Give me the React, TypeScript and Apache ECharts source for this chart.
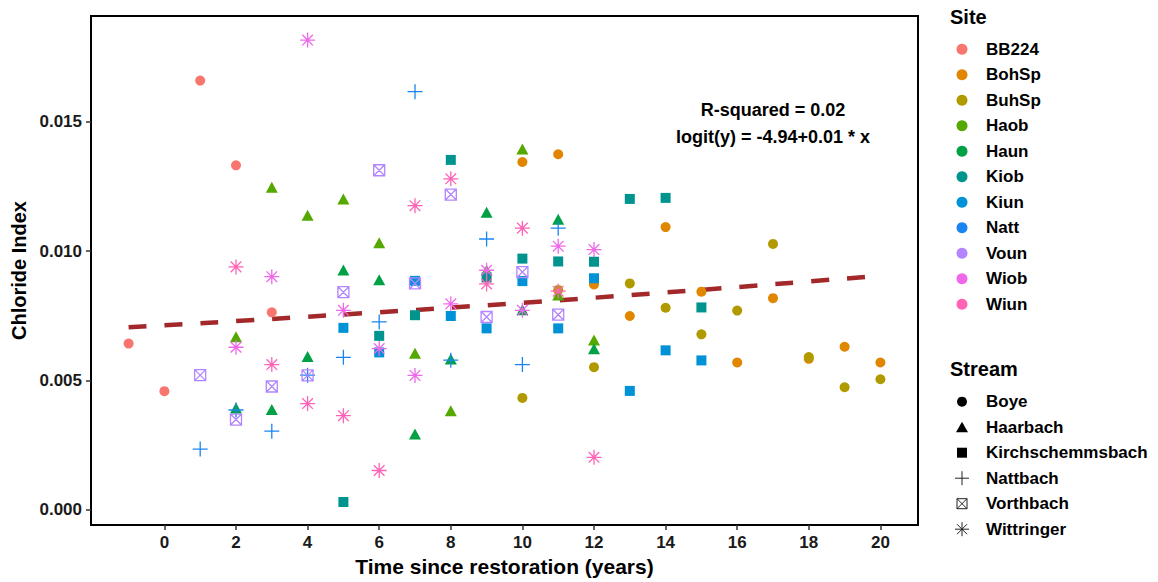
import React, { useEffect, useRef } from "react";
import * as echarts from "echarts";

const FONT = '"Liberation Sans", Arial, Helvetica, sans-serif';

// ---- data ----
const yearsBB224 = [-1, 0, 1, 2, 3];
const years10to20 = [10, 11, 12, 13, 14, 15, 16, 17, 18, 19, 20];
const years2to12 = [2, 3, 4, 5, 6, 7, 8, 9, 10, 11, 12];
const years5to15 = [5, 6, 7, 8, 9, 10, 11, 12, 13, 14, 15];
const years1to11 = [1, 2, 3, 4, 5, 6, 7, 8, 9, 10, 11];

const valBB224 = [0.00642, 0.00458, 0.0166, 0.01332, 0.00763];
const valBohSp = [0.01345, 0.01375, 0.00871, 0.00749, 0.01093, 0.00843, 0.00569, 0.00818, 0.00583, 0.0063, 0.00569];
const valBuhSp = [0.00432, 0.0085, 0.00551, 0.00875, 0.00781, 0.00678, 0.0077, 0.01028, 0.0059, 0.00473, 0.00504];
const valHaob = [0.00669, 0.01247, 0.01139, 0.01202, 0.01032, 0.00605, 0.00382, 0.00926, 0.01395, 0.0083, 0.00656];
const valHaun = [0.00393, 0.00387, 0.00592, 0.00927, 0.00889, 0.00292, 0.00582, 0.0115, 0.00773, 0.01123, 0.00622];
const valKiob = [0.00029, 0.00672, 0.00752, 0.01353, 0.00898, 0.00971, 0.0096, 0.00959, 0.01202, 0.01206, 0.00782];
const valKiun = [0.00703, 0.00608, 0.00885, 0.00749, 0.00701, 0.00884, 0.00701, 0.00895, 0.00459, 0.00616, 0.00577];
const valNatt = [0.00234, 0.00385, 0.00303, 0.0052, 0.00589, 0.00726, 0.01617, 0.00578, 0.01047, 0.00561, 0.01089];
const valVoun = [0.0052, 0.00348, 0.00476, 0.00519, 0.00841, 0.01313, 0.00875, 0.01219, 0.00745, 0.00919, 0.00754];
const valWiob = [0.00628, 0.00901, 0.01817, 0.00771, 0.00623, 0.00519, 0.00796, 0.00926, 0.00771, 0.01019, 0.01006];
const valWiun = [0.00939, 0.00561, 0.0041, 0.00363, 0.00151, 0.01176, 0.0128, 0.00873, 0.01089, 0.00845, 0.00202];

const fitX = [-1, 10, 20];
const fitY = [0.00705, 0.008, 0.00905];

const siteNames = ["BB224", "BohSp", "BuhSp", "Haob", "Haun", "Kiob", "Kiun", "Natt", "Voun", "Wiob", "Wiun"];
const siteStreams = ["Boye", "Boye", "Boye", "Haarbach", "Haarbach", "Kirchschemmsbach", "Kirchschemmsbach", "Nattbach", "Vorthbach", "Wittringer", "Wittringer"];
const siteYears = [yearsBB224, years10to20, years10to20, years2to12, years2to12, years5to15, years5to15, years1to11, years1to11, years2to12, years2to12];
const siteValues = [valBB224, valBohSp, valBuhSp, valHaob, valHaun, valKiob, valKiun, valNatt, valVoun, valWiob, valWiun];
const siteColors = ["#F8766D", "#E08600", "#B09A00", "#55A800", "#00A045", "#00948F", "#0092D6", "#1A85F2", "#B385FF", "#EF67EB", "#FF63B6"];

const streamNames = ["Boye", "Haarbach", "Kirchschemmsbach", "Nattbach", "Vorthbach", "Wittringer"];

const xTicks = [0, 2, 4, 6, 8, 10, 12, 14, 16, 18, 20];
const yTicks = [0, 0.005, 0.01, 0.015];

// ---- symbol styles per stream ----
const streamSymbol: Record<string, any> = {
  Boye: { symbol: "circle", size: 10, stroke: false },
  Haarbach: { symbol: "triangle", size: [12, 11], stroke: false },
  Kirchschemmsbach: { symbol: "rect", size: 10, stroke: false },
  Nattbach: { symbol: "path://M5,0L5,10M0,5L10,5", size: 15, stroke: true },
  Vorthbach: { symbol: "path://M0,0L10,0L10,10L0,10ZM0,0L10,10M10,0L0,10", size: 11, stroke: true },
  Wittringer: { symbol: "path://M5,0L5,10M0,5L10,5M1.46,1.46L8.54,8.54M8.54,1.46L1.46,8.54", size: 15, stroke: true },
};

function buildSeries() {
  const series: any[] = [
    {
      type: "line",
      name: "fit",
      data: fitX.map((x, i) => [x, fitY[i]]),
      showSymbol: false,
      smooth: true,
      lineStyle: { color: "#A3282A", width: 4.5, type: [18, 18], cap: "butt" },
      z: 1,
      silent: true,
    },
  ];
  siteNames.forEach((name, i) => {
    const st = streamSymbol[siteStreams[i]];
    const color = siteColors[i];
    series.push({
      type: "scatter",
      name,
      data: siteYears[i].map((x, j) => [x, siteValues[i][j]]),
      symbol: st.symbol,
      symbolSize: st.size,
      z: 2 + i,
      itemStyle: st.stroke
        ? { color: "rgba(0,0,0,0)", borderColor: color, borderWidth: 1.3, opacity: 1 }
        : { color, opacity: 1 },
    });
  });
  return series;
}

function legendGraphics() {
  const els: any[] = [];
  const textStyle = (t: string, x: number, y: number, size: number) => ({
    type: "text",
    x,
    y,
    style: {
      text: t,
      fontFamily: FONT,
      fontWeight: "bold",
      fontSize: size,
      fill: "#000",
      textAlign: "left",
      textVerticalAlign: "middle",
    },
  });
  els.push(textStyle("Site", 950, 17, 20));
  const siteY0 = 49.3;
  const siteStep = 25.5;
  siteNames.forEach((n, i) => {
    const y = siteY0 + i * siteStep;
    els.push({ type: "circle", shape: { cx: 962, cy: y, r: 5.5 }, style: { fill: siteColors[i] } });
    els.push(textStyle(n, 986, y, 17));
  });
  els.push(textStyle("Stream", 950, 369, 20));
  const sY0 = 401.7;
  const sStep = 25.5;
  const blk = "#000";
  streamNames.forEach((n, i) => {
    const y = sY0 + i * sStep;
    const cx = 962;
    if (n === "Boye") {
      els.push({ type: "circle", shape: { cx, cy: y, r: 5 }, style: { fill: blk } });
    } else if (n === "Haarbach") {
      els.push({ type: "polygon", shape: { points: [[cx - 6, y + 5], [cx + 6, y + 5], [cx, y - 5.5]] }, style: { fill: blk } });
    } else if (n === "Kirchschemmsbach") {
      els.push({ type: "rect", shape: { x: cx - 5, y: y - 5, width: 10, height: 10 }, style: { fill: blk } });
    } else if (n === "Nattbach") {
      els.push({ type: "line", shape: { x1: cx - 7, y1: y, x2: cx + 7, y2: y }, style: { stroke: "#222", lineWidth: 1 } });
      els.push({ type: "line", shape: { x1: cx, y1: y - 7, x2: cx, y2: y + 7 }, style: { stroke: "#222", lineWidth: 1 } });
    } else if (n === "Vorthbach") {
      els.push({ type: "rect", shape: { x: cx - 5, y: y - 5, width: 10, height: 10 }, style: { fill: "none", stroke: "#222", lineWidth: 1 } });
      els.push({ type: "line", shape: { x1: cx - 5, y1: y - 5, x2: cx + 5, y2: y + 5 }, style: { stroke: "#222", lineWidth: 1 } });
      els.push({ type: "line", shape: { x1: cx + 5, y1: y - 5, x2: cx - 5, y2: y + 5 }, style: { stroke: "#222", lineWidth: 1 } });
    } else {
      const r = 7;
      const d = 5;
      els.push({ type: "line", shape: { x1: cx - r, y1: y, x2: cx + r, y2: y }, style: { stroke: "#222", lineWidth: 1 } });
      els.push({ type: "line", shape: { x1: cx, y1: y - r, x2: cx, y2: y + r }, style: { stroke: "#222", lineWidth: 1 } });
      els.push({ type: "line", shape: { x1: cx - d, y1: y - d, x2: cx + d, y2: y + d }, style: { stroke: "#222", lineWidth: 1 } });
      els.push({ type: "line", shape: { x1: cx + d, y1: y - d, x2: cx - d, y2: y + d }, style: { stroke: "#222", lineWidth: 1 } });
    }
    els.push(textStyle(n, 986, y, 17));
  });
  // annotation
  const ann = (t: string, y: number) => ({
    type: "text",
    x: 773,
    y,
    style: {
      text: t,
      fontFamily: FONT,
      fontWeight: "bold",
      fontSize: 18,
      fill: "#000",
      textAlign: "center",
      textVerticalAlign: "middle",
    },
    z: 100,
  });
  els.push(ann("R-squared = 0.02", 110));
  els.push(ann("logit(y) = -4.94+0.01 * x", 137));
  return els;
}

export default function App() {
  const ref = useRef<HTMLDivElement>(null);
  useEffect(() => {
    if (!ref.current) return;
    const chart = echarts.init(ref.current, null, { renderer: "svg" });
    const option: any = {
      animation: false,
      backgroundColor: "#ffffff",
      textStyle: { fontFamily: FONT },
      grid: {
        left: 91,
        right: 240,
        top: 16,
        bottom: 52,
        show: true,
        borderColor: "#000",
        borderWidth: 2,
        backgroundColor: "transparent",
        containLabel: false,
      },
      xAxis: {
        type: "value",
        min: -2.05,
        max: 21.05,
        name: "Time since restoration (years)",
        nameLocation: "middle",
        nameGap: 31,
        nameTextStyle: { fontFamily: FONT, fontWeight: "bold", fontSize: 21, color: "#000" },
        axisLine: { show: false, onZero: false },
        splitLine: { show: false },
        axisTick: { show: true, length: 5, lineStyle: { color: "#333", width: 1.5 }, customValues: xTicks },
        axisLabel: {
          customValues: xTicks,
          margin: 9,
          fontFamily: FONT,
          fontWeight: "bold",
          fontSize: 17,
          color: "#1a1a1a",
        },
      },
      yAxis: {
        type: "value",
        min: -0.0006,
        max: 0.0191,
        name: "Chloride Index",
        nameLocation: "middle",
        nameGap: 59,
        nameTextStyle: { fontFamily: FONT, fontWeight: "bold", fontSize: 20, color: "#000" },
        axisLine: { show: false, onZero: false },
        splitLine: { show: false },
        axisTick: { show: true, length: 5, lineStyle: { color: "#333", width: 1.5 }, customValues: yTicks },
        axisLabel: {
          customValues: yTicks,
          margin: 9,
          fontFamily: FONT,
          fontWeight: "bold",
          fontSize: 17,
          color: "#1a1a1a",
          formatter: (v: number) => v.toFixed(3),
        },
      },
      series: buildSeries(),
      graphic: legendGraphics(),
    };
    chart.setOption(option);
    return () => chart.dispose();
  }, []);
  return (
    <div
      ref={ref}
      style={{ position: "fixed", left: 0, top: 0, width: 1158, height: 582, background: "#fff" }}
    />
  );
}
